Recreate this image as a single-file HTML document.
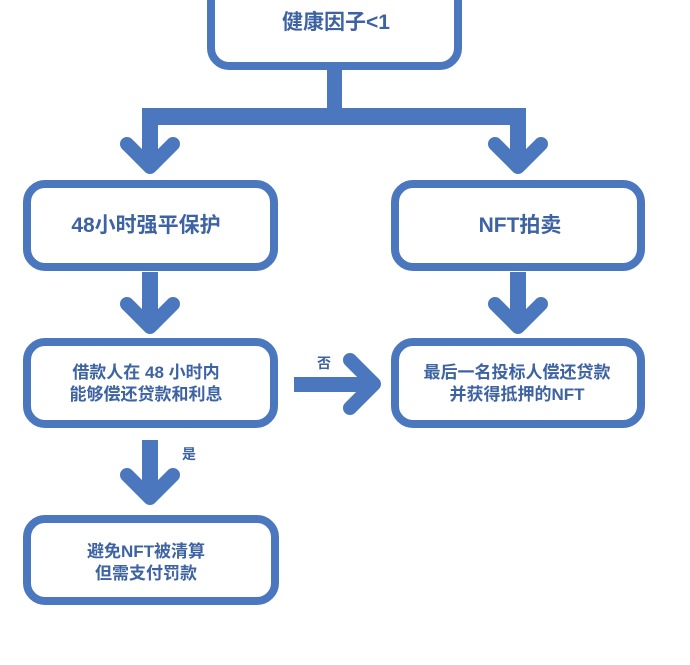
<!DOCTYPE html>
<html><head><meta charset="utf-8"><style>
html,body{margin:0;padding:0;background:#fff;}
svg text{font-family:"Liberation Sans","Noto Sans CJK SC",sans-serif;font-weight:bold;fill:#3d63a3;}
</style></head><body>
<svg width="690" height="660" viewBox="0 0 690 660" xmlns="http://www.w3.org/2000/svg">
<g fill="none" stroke="#4a77bd" stroke-width="8">
<rect x="211" y="-20" width="247" height="86" rx="18"/>
<rect x="27" y="184" width="247" height="83" rx="18"/>
<rect x="395" y="184" width="246" height="83" rx="18"/>
<rect x="27" y="342" width="247" height="82" rx="18"/>
<rect x="395" y="342" width="246" height="82" rx="18"/>
<rect x="27" y="519" width="248" height="82" rx="18"/>
</g>
<g fill="#4a77bd">
<rect x="327" y="68" width="15" height="45"/>
<rect x="142" y="108" width="384" height="17"/>
<rect x="142" y="108" width="16" height="55"/>
<rect x="510" y="108" width="16" height="55"/>
<rect x="142" y="272" width="16" height="52"/>
<rect x="510" y="272" width="16" height="52"/>
<rect x="142" y="440" width="16" height="55"/>
<rect x="294" y="377" width="75" height="15"/>
</g>
<g fill="none" stroke="#4a77bd" stroke-width="14" stroke-linecap="round" stroke-linejoin="round">
<polyline points="127,144 150,167 173,144"/>
<polyline points="495,144 518,167 541,144"/>
<polyline points="127,304 150,327 173,304"/>
<polyline points="495,304 518,327 541,304"/>
<polyline points="127,475 150,498 173,475"/>
<polyline points="350,360 374,384 350,408"/>
</g>
<text x="336" y="29" font-size="21" text-anchor="middle">健康因子&lt;1</text>
<text x="146" y="232" font-size="21" text-anchor="middle">48小时强平保护</text>
<text x="520" y="232" font-size="21" text-anchor="middle">NFT拍卖</text>
<text x="146" y="378" font-size="17" text-anchor="middle">借款人在 48 小时内</text>
<text x="146" y="400" font-size="17" text-anchor="middle">能够偿还贷款和利息</text>
<text x="517" y="378" font-size="17" text-anchor="middle">最后一名投标人偿还贷款</text>
<text x="517" y="400" font-size="17" text-anchor="middle">并获得抵押的NFT</text>
<text x="146" y="557" font-size="17" text-anchor="middle">避免NFT被清算</text>
<text x="146" y="579" font-size="17" text-anchor="middle">但需支付罚款</text>
<text x="324" y="368" font-size="14" text-anchor="middle">否</text>
<text x="189" y="459" font-size="14" text-anchor="middle">是</text>
</svg>
</body></html>
